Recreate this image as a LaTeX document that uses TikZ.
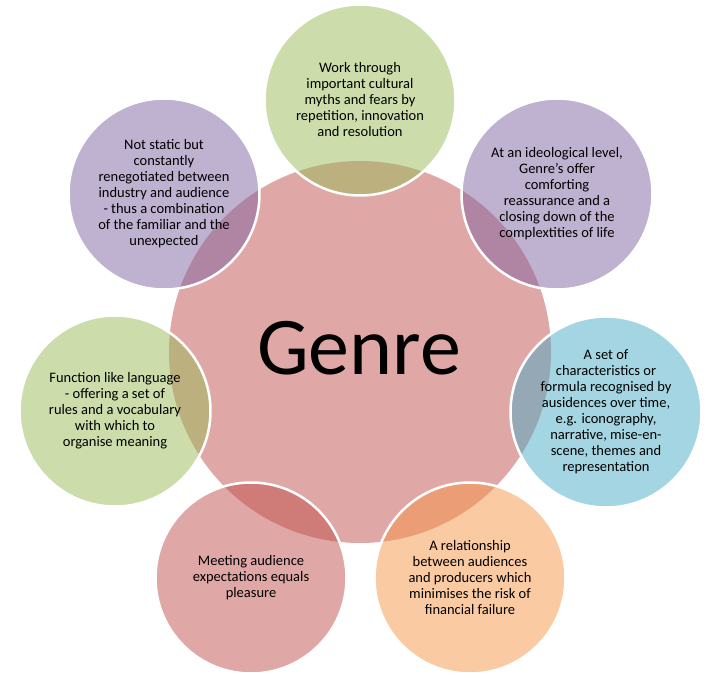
\documentclass[tikz,border=0pt]{standalone}
\usepackage{fontspec}
\setmainfont{Carlito}
\usepackage{tikz}
\definecolor{accentred}{HTML}{C0504D}
\definecolor{accentgreen}{HTML}{9BBB59}
\definecolor{accentpurple}{HTML}{8064A2}
\definecolor{accentblue}{HTML}{4BACC6}
\definecolor{accentorange}{HTML}{F79646}
\tikzset{
  hubdisc/.style={
    circle,
    fill=accentred,
    fill opacity=0.5,
    minimum size=382pt,
    inner sep=0pt
  },
  hubword/.style={font=\fontsize{82}{90}\selectfont, inner sep=0pt},
  bubble/.style={
    circle,
    draw=white,
    line width=2.5pt,
    fill opacity=0.5,
    text opacity=1,
    align=center,
    font=\fontsize{14.5}{16}\selectfont,
    minimum size=191pt,
    inner sep=0pt
  }
}

\begin{document}
\begin{tikzpicture}[x=1pt,y=-1pt]
\useasboundingbox (0,0) rectangle (725,684);
\fill[white] (0,0) rectangle (725,684);

\node[hubdisc] (hub) at (360,352) {};
\node[hubword] (genre) at (359,348) {Genre};

\node[bubble, fill=accentgreen] (myths) at (360,100)
  {Work through\\important cultural\\myths and fears by\\repetition, innovation\\and resolution};
\node[bubble, fill=accentpurple] (ideology) at (557,194)
  {At an ideological level,\\Genre's offer\\comforting\\reassurance and a\\closing down of the\\complextities of life};
\node[bubble, fill=accentblue] (formula) at (606,412)
  {A set of\\characteristics or\\formula recognised by\\ausidences over time,\\e.g. iconography,\\narrative, mise-en-\\scene, themes and\\representation};
\node[bubble, fill=accentorange] (relationship) at (470,578)
  {A relationship\\between audiences\\and producers which\\minimises the risk of\\financial failure};
\node[bubble, fill=accentred] (pleasure) at (251,578)
  {Meeting audience\\expectations equals\\pleasure};
\node[bubble, fill=accentgreen] (language) at (115,411)
  {Function like language\\- offering a set of\\rules and a vocabulary\\with which to\\organise meaning};
\node[bubble, fill=accentpurple] (negotiation) at (164,194)
  {Not static but\\constantly\\renegotiated between\\industry and audience\\- thus a combination\\of the familiar and the\\unexpected};
\end{tikzpicture}
\end{document}
